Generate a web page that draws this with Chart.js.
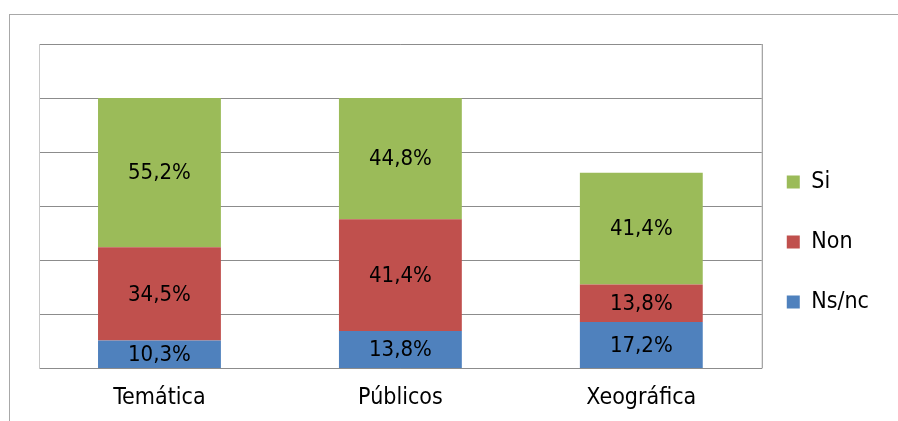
<!DOCTYPE html>
<html>
<head>
<meta charset="utf-8">
<script src="https://cdn.jsdelivr.net/npm/chart.js@4/dist/chart.umd.min.js"></script>
<style>
  html, body { margin: 0; padding: 0; background: #fff; }
  #wrap { position: relative; width: 898px; height: 421px; }
  #frame { position: absolute; left: 9px; top: 14px; right: 0; bottom: 0;
           border-top: 1px solid #a8a8a8; border-left: 1px solid #a8a8a8; }
  canvas { position: absolute; left: 0; top: 0; }
</style>
</head>
<body>
<div id="wrap">
  <div id="frame"></div>
  <canvas id="enquisa" width="898" height="421"></canvas>
</div>
<script>
var categorias = ["Temática", "Públicos", "Xeográfica"];
var nsnc = [10.3, 13.8, 17.2];
var non = [34.5, 41.4, 13.8];
var si = [55.2, 44.8, 41.4];

var fonte = '"DejaVu Sans Condensed", "Liberation Sans", sans-serif';

// etiquetas de porcentaxe no medio de cada tramo
var etiquetas = {
    id: 'etiquetas',
    afterDatasetsDraw: function(chart) {
        var ctx = chart.ctx;
        ctx.save();
        ctx.font = '22px ' + fonte;
        ctx.fillStyle = '#000';
        ctx.textAlign = 'center';
        ctx.textBaseline = 'middle';
        chart.data.datasets.forEach(function(ds, i) {
            chart.getDatasetMeta(i).data.forEach(function(bar, j) {
                var txt = ds.data[j].toFixed(1).replace('.', ',') + '%';
                ctx.fillText(txt, bar.x, (bar.y + bar.base) / 2 + 1);
            });
        });
        ctx.restore();
    }
};

// bordo dereito da area de debuxo e axuste da lenda
var marco = {
    id: 'marco',
    afterLayout: function(chart) {
        var d = chart.legend.left + 37 - (chart.chartArea.right + 25);
        chart.legend.left -= d;
        chart.legend.right -= d;
        chart.legend.top += 6;
        chart.legend.bottom += 6;
    },
    afterDraw: function(chart) {
        var a = chart.chartArea;
        var ctx = chart.ctx;
        ctx.save();
        ctx.strokeStyle = '#8c8c8c';
        ctx.lineWidth = 1;
        ctx.beginPath();
        ctx.moveTo(a.right + 0.5, a.top);
        ctx.lineTo(a.right + 0.5, a.bottom);
        ctx.stroke();
        ctx.restore();
    }
};

var datos = {
    labels: categorias,
    datasets: [
        { label: "Ns/nc", data: nsnc, backgroundColor: '#4F81BD' },
        { label: "Non", data: non, backgroundColor: '#C0504D' },
        { label: "Si", data: si, backgroundColor: '#9BBB59' }
    ]
};

new Chart(document.getElementById("enquisa"), {
    type: 'bar',
    data: datos,
    plugins: [etiquetas, marco],
    options: {
        responsive: false,
        animation: false,
        categoryPercentage: 1,
        barPercentage: 0.51,
        layout: { padding: { left: 39, top: 44, right: 7, bottom: -7 } },
        plugins: {
            tooltip: { enabled: false },
            legend: {
                position: 'right',
                reverse: true,
                labels: {
                    boxWidth: 13,
                    boxHeight: 13,
                    padding: 37,
                    color: '#000',
                    font: { family: fonte, size: 23 }
                }
            }
        },
        scales: {
            x: {
                stacked: true,
                grid: { display: false, drawTicks: false },
                border: { color: '#8c8c8c' },
                ticks: { color: '#000', padding: 16, font: { family: fonte, size: 23 } }
            },
            y: {
                stacked: true,
                min: 0,
                max: 120,
                ticks: { display: false, stepSize: 20 },
                grid: { color: '#8c8c8c', drawTicks: false },
                border: { color: '#c8c8c8' }
            }
        }
    }
});
</script>
</body>
</html>
